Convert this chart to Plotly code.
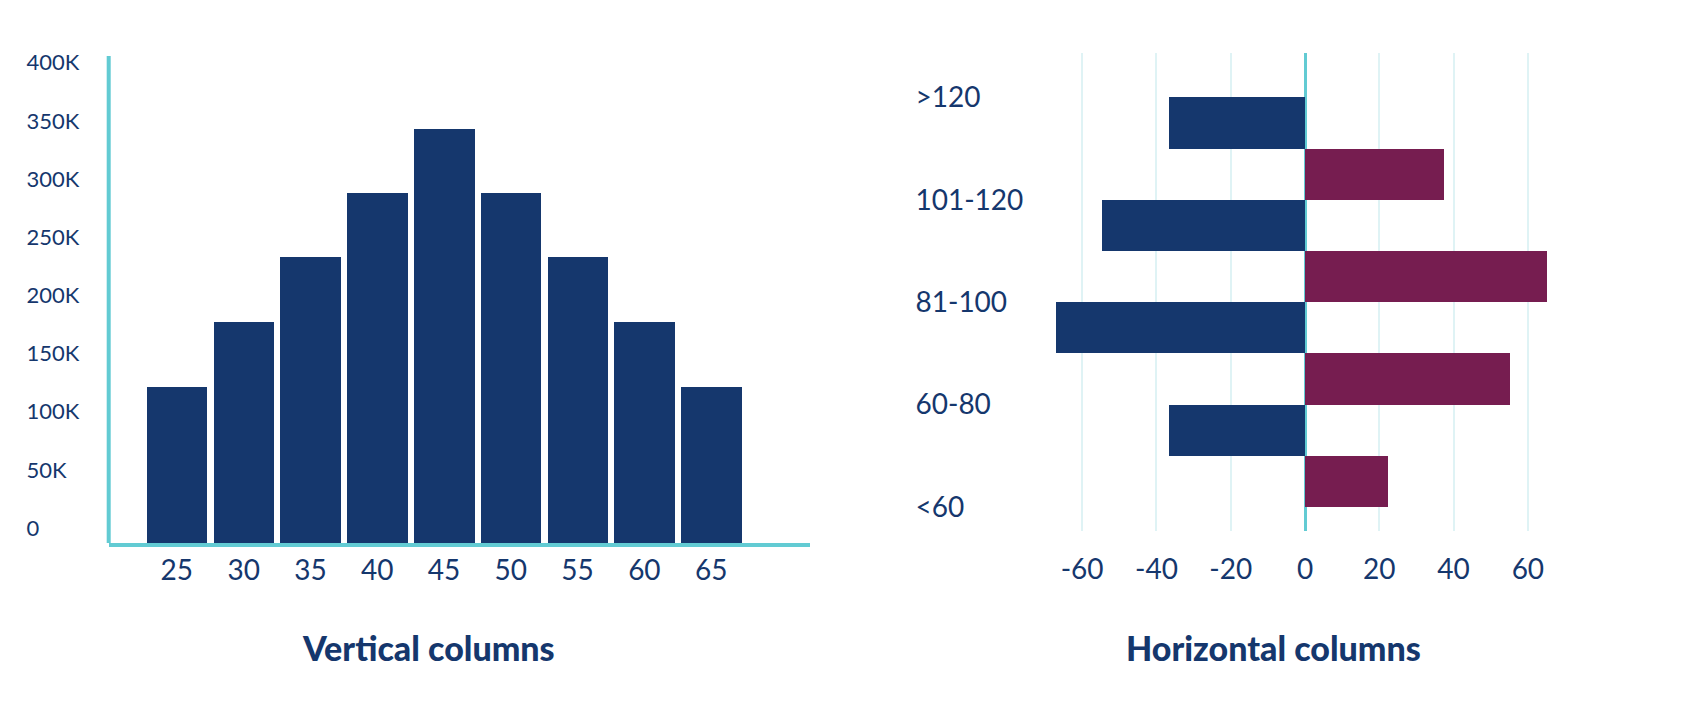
import plotly.graph_objects as go

# ---------------- data ----------------
age_groups = ["25", "30", "35", "40", "45", "50", "55", "60", "65"]
age_values = [134000, 190000, 246000, 301000, 356000, 301000, 246000, 190000, 134000]
y_tick_vals = [0, 50000, 100000, 150000, 200000, 250000, 300000, 350000, 400000]
y_tick_text = ["0", "50K", "100K", "150K", "200K", "250K", "300K", "350K", "400K"]

bands = ["<60", "60-80", "81-100", "101-120", ">120"]
navy_values = [0, -36.6, -67, -54.6, -36.6]
maroon_values = [22.3, 55.3, 65.1, 37.3, 0]
x_tick_vals = [-60, -40, -20, 0, 20, 40, 60]
x_tick_text = ["-60", "-40", "-20", "0", "20", "40", "60"]

titles = ["Vertical columns", "Horizontal columns"]

# ---------------- style ----------------
NAVY = "#15376D"
MAROON = "#761D50"
TEAL = "#62CBD3"
GRID = "#DFF3F5"
FONT = "Lato"

W, H = 1682, 714


def px(x):
    return x / W


def py(y):
    return (H - y) / H


fig = go.Figure()

fig.add_trace(go.Bar(
    x=age_groups, y=age_values, marker=dict(color=NAVY, line=dict(width=0)),
    width=0.906, offset=-0.453, xaxis="x", yaxis="y", showlegend=False,
))

fig.add_trace(go.Bar(
    y=bands, x=navy_values, orientation="h",
    marker=dict(color=NAVY, line=dict(width=0)),
    xaxis="x2", yaxis="y2", showlegend=False,
))
fig.add_trace(go.Bar(
    y=bands, x=maroon_values, orientation="h",
    marker=dict(color=MAROON, line=dict(width=0)),
    xaxis="x2", yaxis="y2", showlegend=False,
))

title_font = dict(size=34, color=NAVY, family="Lato Black, Lato", weight=900)

fig.update_layout(
    width=W, height=H,
    margin=dict(l=0, r=0, t=0, b=0),
    paper_bgcolor="white", plot_bgcolor="rgba(0,0,0,0)",
    barmode="group", bargap=0, bargroupgap=0,
    font=dict(family=FONT, color=NAVY),
    hovermode=False,
    xaxis=dict(
        domain=[px(108.7), px(810)], anchor="y", type="category",
        range=[-1.02, 9.48], showgrid=False, zeroline=False,
        showline=True, linecolor=TEAL, linewidth=4,
        ticks="", ticklabelstandoff=-1,
        tickfont=dict(size=28, color=NAVY, family=FONT),
    ),
    yaxis=dict(
        domain=[py(541.3), py(49.6)], anchor="free", position=0.0151,
        side="right", range=[0, 418600], showgrid=False, zeroline=False,
        showline=False, ticks="", tickvals=y_tick_vals, ticktext=y_tick_text,
        ticklabelshift=-15,
        tickfont=dict(size=22, color=NAVY, family=FONT),
    ),
    xaxis2=dict(
        domain=[px(1045), px(1565)], anchor="y2", range=[-70, 70],
        showgrid=True, gridcolor=GRID, gridwidth=1.5,
        zeroline=True, zerolinecolor=TEAL, zerolinewidth=3,
        showline=False, ticks="", tickvals=x_tick_vals, ticktext=x_tick_text,
        ticklabelstandoff=19,
        tickfont=dict(size=28, color=NAVY, family=FONT),
    ),
    yaxis2=dict(
        domain=[py(529.3), py(46.5)], anchor="free", position=0.5437,
        side="right", type="category", range=[-0.235, 4.433],
        showgrid=False, zeroline=False, showline=False, ticks="",
        tickfont=dict(size=28, color=NAVY, family=FONT),
    ),
    shapes=[dict(
        type="line", xref="x domain", yref="y domain",
        x0=0, x1=0, y0=0, y1=1, line=dict(color=TEAL, width=4), layer="above",
    )],
    annotations=[
        dict(text=titles[0], x=px(428), y=py(647), xref="paper", yref="paper",
             showarrow=False, xanchor="center", yanchor="middle", font=title_font),
        dict(text=titles[1], x=px(1273.5), y=py(647), xref="paper", yref="paper",
             showarrow=False, xanchor="center", yanchor="middle", font=title_font),
    ],
)

fig.write_html(
    "out.html",
    config={"displayModeBar": False},
    post_script="document.body.style.margin='0px';",
)
